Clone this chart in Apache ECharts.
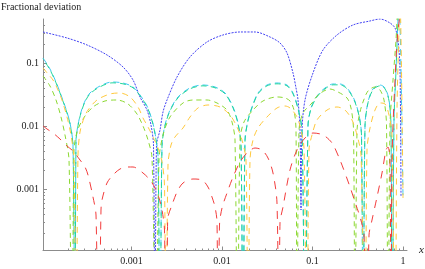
<!DOCTYPE html>
<html><head><meta charset="utf-8">
<script src="https://cdn.jsdelivr.net/npm/echarts@6/dist/echarts.min.js"></script>
<style>html,body{margin:0;padding:0;background:#fff}#c{width:425px;height:269px}</style>
</head><body><div id="c"></div>
<script>
// a zero crossing of the deviation (falls below the plotted range)
const Z = 1e-6;

const xTickLabels = [0.001, 0.01, 0.1, 1];
const yTickLabels = [0.001, 0.01, 0.1];
const X_MIN = 1.052e-4, X_MAX = 1.107;
const Y_MIN = 1.057e-4, Y_MAX = 0.499;

const blueX = [1.052e-4,1.938e-4,3.223e-4,5.36e-4,8.053e-4,1.039e-3,1.241e-3,1.483e-3,1.642e-3,1.75e-3,1.818e-3,1.889e-3,2.065e-3,2.228e-3,2.467e-3,3.182e-3,4.429e-3,6.825e-3,0.010258,0.015808,0.023152,0.033908,0.043731,0.052255,0.06087,0.065721,0.069152,0.072761,0.074636,0.076559,0.08263,0.10128,0.130618,0.186497,0.280285,0.431928,0.557041,0.718417,0.81586,0.880553,0.926518,0.95039];
const blueY = [0.3105,0.2494,0.1931,0.134,0.0864,0.0537,0.0289,0.0179,0.01037,0.00499,Z,0.00499,0.00864,0.01668,0.02586,0.0599,0.1245,0.2155,0.2783,0.3105,0.3105,0.2586,0.2077,0.1441,0.0694,0.0401,0.02586,0.00864,0.000464,0.00864,0.02586,0.0694,0.1608,0.2783,0.401,0.4642,0.4994,0.4314,0.3594,0.2318,0.0774,0.000746];

const cyanX = [1.052e-4,1.257e-4,1.465e-4,1.663e-4,1.889e-4,2.091e-4,2.257e-4,2.375e-4,2.436e-4,2.563e-4,2.766e-4,3.063e-4,3.478e-4,4.486e-4,6.087e-4,8.053e-4,1.039e-3,1.241e-3,1.483e-3,1.685e-3,1.818e-3,1.962e-3,2.065e-3,2.173e-3,2.345e-3,2.663e-3,3.264e-3,4.429e-3,6.165e-3,8.369e-3,0.010793,0.013229,0.015023,0.016215,0.017061,0.017952,0.019375,0.021451,0.024988,0.031417,0.040518,0.052255,0.06087,0.069152,0.076559,0.08263,0.089183,0.096255,0.112129,0.137437,0.168454,0.201284,0.24061,0.287505,0.326499,0.347938,0.361479,0.380344,0.410509,0.466187,0.557041,0.632611,0.700368,0.73692,0.755915,0.795367,0.836876,0.880553,0.903244,1];
const cyanY = [0.1201,0.0803,0.0499,0.0311,0.0186,0.01116,0.00499,Z,0.005995,0.01037,0.01668,0.02494,0.0334,0.04314,0.0499,0.04814,0.0416,0.0311,0.02077,0.01245,0.00774,0.003465,Z,0.00499,0.01037,0.0179,0.0289,0.0401,0.04475,0.0416,0.0334,0.02003,0.01116,0.00499,Z,0.005995,0.01245,0.02003,0.0334,0.04475,0.04814,0.04475,0.0334,0.01931,0.00864,Z,0.01037,0.01931,0.02994,0.0401,0.04642,0.04642,0.0401,0.02683,0.01495,0.0072,Z,0.01037,0.02404,0.03866,0.04475,0.0401,0.02586,0.01037,Z,0.01245,0.0774,0.4814,0.9295,0.00072];

const greenX = cyanX;
const greenY = [0.1165,0.0779,0.0484,0.0302,0.018,0.01083,0.00484,Z,0.00582,0.01006,0.01618,0.02419,0.0324,0.04185,0.0484,0.0467,0.0404,0.0302,0.02015,0.01208,0.00751,0.00336,Z,0.00484,0.01006,0.01736,0.028,0.0389,0.0434,0.0404,0.0324,0.01943,0.01083,0.00484,Z,0.00582,0.01208,0.01943,0.0324,0.0434,0.0467,0.0434,0.0324,0.01873,0.00838,Z,0.01006,0.01873,0.029,0.0389,0.045,0.045,0.0389,0.026,0.0145,0.00698,Z,0.01006,0.02332,0.0375,0.0434,0.0389,0.02508,0.01006,Z,0.01208,0.0751,0.467,0.9,1.0];

const limeX = [1.052e-4,1.257e-4,1.465e-4,1.663e-4,1.841e-4,2.039e-4,2.2e-4,2.315e-4,2.499e-4,2.911e-4,3.754e-4,5.094e-4,6.913e-4,9.145e-4,1.15e-3,1.34e-3,1.522e-3,1.685e-3,1.865e-3,2.013e-3,2.228e-3,2.663e-3,3.707e-3,4.78e-3,6.825e-3,8.806e-3,0.011357,0.012897,0.01392,0.014834,0.015808,0.017501,0.022003,0.028377,0.040518,0.049662,0.056398,0.06244,0.065721,0.067415,0.070934,0.078531,0.098736,0.115019,0.156083,0.191308,0.24061,0.266383,0.283871,0.294914,0.310303,0.334919,0.361479,0.410509,0.490533,0.557041,0.616713,0.657212,0.68278,0.718417,0.775392,0.836876,0.880553,0.926518];
const limeY = [0.0622,0.04314,0.02586,0.0139,0.0072,0.002886,Z,0.00416,0.00803,0.01292,0.02003,0.02494,0.02586,0.02235,0.01551,0.01,0.005995,0.003105,Z,0.002886,0.0072,0.0139,0.02318,0.02586,0.02586,0.02318,0.0179,0.01157,0.005995,Z,0.005995,0.01157,0.0179,0.02494,0.0289,0.02783,0.02494,0.0179,0.00864,Z,0.00864,0.01608,0.02318,0.0311,0.03866,0.03465,0.02783,0.01931,0.00864,Z,0.00864,0.01668,0.02404,0.03594,0.0416,0.03728,0.02586,0.01037,Z,0.01037,0.0537,0.2318,0.833,1.0];

const orangeX = [1.052e-4,1.195e-4,1.357e-4,1.541e-4,1.706e-4,1.938e-4,2.145e-4,2.315e-4,2.436e-4,2.563e-4,2.697e-4,2.986e-4,3.306e-4,4.156e-4,5.785e-4,7.461e-4,9.625e-4,1.18e-3,1.34e-3,1.522e-3,1.728e-3,1.962e-3,2.173e-3,2.315e-3,2.405e-3,2.531e-3,2.732e-3,3.024e-3,3.707e-3,4.429e-3,5.429e-3,7.002e-3,9.504e-3,0.012257,0.014646,0.016633,0.018414,0.019375,0.020386,0.022003,0.024988,0.031417,0.040518,0.049662,0.056398,0.067415,0.074636,0.080555,0.086943,0.09148,0.098736,0.112129,0.144609,0.186497,0.228674,0.273245,0.310303,0.343548,0.380344,0.400192,0.431928,0.490533,0.557041,0.632611,0.700368,0.755915,0.81586,0.858443,0.903244,0.926518,1];
const orangeY = [0.0833,0.0669,0.0537,0.03728,0.02586,0.0139,0.0072,0.002886,Z,0.003465,0.00803,0.0134,0.0179,0.02586,0.0322,0.0334,0.0289,0.02003,0.0134,0.00964,0.00669,0.004475,0.002683,0.001157,Z,0.002404,0.00499,0.00669,0.0093,0.0139,0.01931,0.02155,0.02003,0.01495,0.00964,0.005995,0.002886,Z,0.002886,0.005995,0.0093,0.0139,0.01931,0.02077,0.01931,0.0139,0.00864,0.004475,Z,0.00416,0.0072,0.01245,0.0179,0.02003,0.0179,0.01245,0.0072,0.003465,Z,0.00416,0.0093,0.0179,0.02318,0.02235,0.01495,0.0072,Z,0.0179,0.334,0.93,0.00072];

const redX = [1.052e-4,1.165e-4,1.357e-4,1.62e-4,1.938e-4,2.257e-4,2.697e-4,3.063e-4,3.306e-4,3.754e-4,4.052e-4,4.318e-4,4.601e-4,4.72e-4,5.36e-4,6.244e-4,7.461e-4,9.145e-4,1.039e-3,1.34e-3,1.601e-3,1.818e-3,2.013e-3,2.173e-3,2.315e-3,2.405e-3,2.499e-3,2.531e-3,2.802e-3,3.182e-3,3.707e-3,4.78e-3,6.01e-3,7.002e-3,7.751e-3,8.369e-3,8.806e-3,9.033e-3,9.384e-3,0.01,0.011357,0.013229,0.015808,0.018889,0.023152,0.027664,0.032227,0.036597,0.040518,0.042632,0.043731,0.047199,0.056398,0.067415,0.08263,0.10128,0.130618,0.164226,0.201284,0.259689,0.302517,0.334919,0.370782,0.400192,0.421088,0.454483,0.516129,0.586132,0.648887,0.68278,0.718417,0.73692,0.755915,0.81586,0.880553,0.974878];
const redY = [0.01,0.00896,0.00774,0.00622,0.004814,0.00401,0.002886,0.002235,0.001668,0.000746,0.000387,Z,0.000464,0.000669,0.001245,0.001668,0.002077,0.002235,0.002235,0.001795,0.00139,0.001037,0.00072,0.000464,0.000223,Z,0.000223,0.000359,0.000557,0.000896,0.001245,0.001441,0.00139,0.001076,0.000746,0.000518,0.000299,Z,0.000268,0.000499,0.000864,0.00155,0.002683,0.003728,0.004475,0.00416,0.003105,0.001795,0.000599,Z,0.000289,0.000518,0.002003,0.00416,0.00645,0.00774,0.0072,0.00537,0.002886,0.001076,0.000557,0.000359,0.000186,Z,0.000186,0.000322,0.000746,0.001795,0.00416,0.00464,0.002886,Z,0.002886,0.0537,0.334,0.896];

function zip(xs, ys) { return xs.map((x, i) => [x, ys[i]]); }
function minorTicks(lo, hi) {
  const out = [];
  for (let e = -4; e <= 0; e++) for (let m = 2; m <= 9; m++) {
    const v = +(m * Math.pow(10, e)).toPrecision(3);
    if (v >= lo && v <= hi) out.push(v);
  }
  return out;
}

const AX = '#8c8c8c';
const FONT = 'Liberation Serif';

function series(name, xs, ys, color, dash, offset) {
  return {
    name, type: 'line', data: zip(xs, ys), xAxisIndex: 0, yAxisIndex: 0,
    showSymbol: false, symbol: 'none', smooth: 0.3, clip: true, silent: true,
    lineStyle: { color, width: 1, type: dash, dashOffset: offset || 0 }
  };
}

const chart = echarts.init(document.getElementById('c'), null, { renderer: 'canvas' });
chart.setOption({
  animation: false,
  backgroundColor: '#fff',
  grid: { left: 43, right: 18, top: 19, bottom: 18.5, outerBoundsMode: 'none', containLabel: false },
  xAxis: [
    { type: 'log', logBase: 10, min: X_MIN, max: X_MAX, position: 'bottom',
      axisLine: { show: true, lineStyle: { color: AX, width: 1 } },
      axisTick: { show: true, inside: true, length: 4, customValues: xTickLabels, lineStyle: { color: AX } },
      axisLabel: { show: true, customValues: xTickLabels, formatter: v => String(+(+v).toPrecision(3)),
        fontFamily: FONT, fontSize: 10, color: '#222', margin: 6 },
      splitLine: { show: false }, minorTick: { show: false } },
    { type: 'log', logBase: 10, min: X_MIN, max: X_MAX, position: 'bottom',
      axisLine: { show: false },
      axisTick: { show: true, inside: true, length: 2, customValues: minorTicks(X_MIN, X_MAX), lineStyle: { color: AX } },
      axisLabel: { show: false }, splitLine: { show: false } }
  ],
  yAxis: [
    { type: 'log', logBase: 10, min: Y_MIN, max: Y_MAX, position: 'left',
      axisLine: { show: true, lineStyle: { color: AX, width: 1 } },
      axisTick: { show: true, inside: true, length: 4, customValues: yTickLabels, lineStyle: { color: AX } },
      axisLabel: { show: true, customValues: yTickLabels, formatter: v => String(+(+v).toPrecision(3)),
        fontFamily: FONT, fontSize: 10, color: '#222', margin: 4 },
      splitLine: { show: false } },
    { type: 'log', logBase: 10, min: Y_MIN, max: Y_MAX, position: 'left',
      axisLine: { show: false },
      axisTick: { show: true, inside: true, length: 2, customValues: minorTicks(Y_MIN, Y_MAX), lineStyle: { color: AX } },
      axisLabel: { show: false }, splitLine: { show: false } }
  ],
  graphic: [
    { type: 'text', left: 1, top: 2, style: { text: 'Fractional deviation', font: '10px "Liberation Serif"', fill: '#222' } },
    { type: 'text', left: 419, top: 245, style: { text: 'x', font: 'italic 11px "Liberation Serif"', fill: '#222' } }
  ],
  series: [
    series('blue', blueX, blueY, '#4242f2', [2, 1.2]),
    series('cyan', cyanX, cyanY, '#3cc8f0', [6, 4]),
    series('green', greenX, greenY, '#22d69a', [6, 4], 5),
    series('lime', limeX, limeY, '#8cd832', [5, 4]),
    series('orange', orangeX, orangeY, '#ffc83c', [6, 5]),
    series('red', redX, redY, '#f23c3c', [8, 7])
  ]
});
</script></body></html>
